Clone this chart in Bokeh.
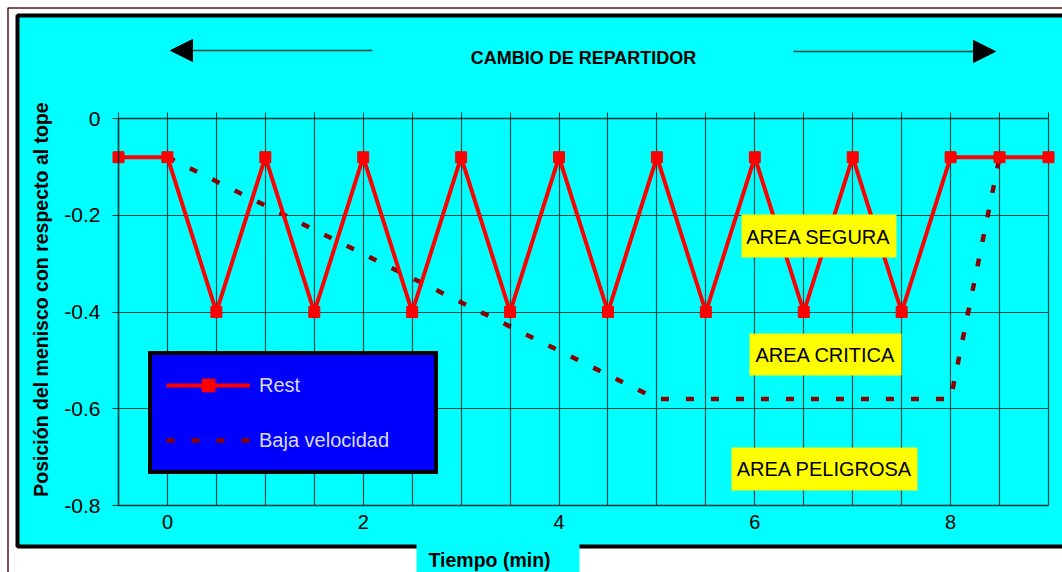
import math
from bokeh.plotting import figure
from bokeh.models import (FixedTicker, LinearAxis, Legend, LegendItem, BoxAnnotation,
                          Label, Arrow, NormalHead)
from bokeh.embed import file_html
from bokeh.resources import INLINE

# ---------------- data ----------------
time_rest = [-0.5, 0, 0.5, 1, 1.5, 2, 2.5, 3, 3.5, 4, 4.5, 5, 5.5, 6, 6.5, 7, 7.5, 8, 8.5, 9]
pos_rest = [-0.08, -0.08, -0.4, -0.08, -0.4, -0.08, -0.4, -0.08, -0.4, -0.08, -0.4,
            -0.08, -0.4, -0.08, -0.4, -0.08, -0.4, -0.08, -0.08, -0.08]
time_baja = [0, 5, 8, 8.5]
pos_baja = [-0.08, -0.58, -0.58, -0.08]

series_names = ["Rest", "Baja velocidad"]
x_tick_vals = [0, 2, 4, 6, 8]
y_tick_vals = [-0.8, -0.6, -0.4, -0.2, 0]
y_tick_labels = ["-0.8", "-0.6", "-0.4", "-0.2", "0"]
x_grid_vals = [-0.5, 0, 0.5, 1, 1.5, 2, 2.5, 3, 3.5, 4, 4.5, 5, 5.5, 6, 6.5, 7, 7.5, 8, 8.5, 9]

title_text = "CAMBIO DE REPARTIDOR"
x_label = "Tiempo (min)"
y_label = "Posición del menisco con respecto al tope"
zone_labels = ["AREA SEGURA", "AREA CRITICA", "AREA PELIGROSA"]

# ---------------- layout ----------------
X0, X1 = -0.5, 9.0          # plotted axis extent
Y0, Y1 = -0.8, 0.0
FL, FR, FT, FB = 118, 1048, 118, 505   # plot area in page pixels
W, H = 1062, 572
FONT = "Liberation Sans"
CYAN = "#00ffff"
GRID = "#164848"


def X(px):   # page pixel -> data x
    return X0 + (px - FL) * (X1 - X0) / (FR - FL)


def Y(py):   # page pixel -> data y
    return Y1 - (py - FT) * (Y1 - Y0) / (FB - FT)


# the frame covers the whole canvas; the axes sit at fixed locations inside it
p = figure(width=W, height=H, x_range=(X(0), X(W)), y_range=(Y(H), Y(0)),
           output_backend="svg", toolbar_location=None, title=None,
           background_fill_color="white", border_fill_color="white",
           min_border_left=0, min_border_right=0, min_border_top=0, min_border_bottom=0)
p.outline_line_color = None


def box(l, r, t, b, **kw):
    return BoxAnnotation(left=X(l), right=X(r), top=Y(t), bottom=Y(b), **kw)


def lab(px, py, text, **kw):
    return Label(x=X(px), y=Y(py), text=text, **kw)


# page decoration (drawn under everything)
p.add_layout(box(7.5, 1100, 7.5, 700, fill_color=None, fill_alpha=0,
                 line_color="#5a1414", line_alpha=1, line_width=1.5, level="image"))
p.add_layout(box(17, 1100, 15, 546, fill_color=CYAN, fill_alpha=1,
                 line_color="black", line_alpha=1, line_width=4, level="image"))
p.add_layout(box(416, 579, 543, 700, fill_color=CYAN, fill_alpha=1,
                 line_color=None, level="image"))

# grids (limited to the plot area)
p.xgrid.ticker = FixedTicker(ticks=x_grid_vals)
p.ygrid.ticker = FixedTicker(ticks=y_tick_vals)
p.xgrid.cross_bounds = (Y0, Y1)
p.ygrid.cross_bounds = (X0, X1)
for g in (p.xgrid, p.ygrid):
    g.grid_line_color = GRID
    g.grid_line_width = 1.2
    g.grid_line_alpha = 1

# axes
p.xaxis.fixed_location = Y0
p.xaxis.bounds = (X0, X1)
p.xaxis.ticker = FixedTicker(ticks=x_tick_vals)
p.xaxis.major_tick_out = 0
p.xaxis.major_tick_in = 0
p.xaxis.minor_tick_line_color = None
p.xaxis.axis_line_color = "#0f3030"
p.xaxis.axis_line_width = 1.5
p.xaxis.major_label_standoff = 9
p.xaxis.major_label_text_font = FONT
p.xaxis.major_label_text_font_size = "20px"
p.xaxis.major_label_text_color = "black"

p.yaxis.fixed_location = X0
p.yaxis.bounds = (Y0, Y1)
p.yaxis.ticker = FixedTicker(ticks=y_tick_vals)
p.yaxis.major_label_overrides = dict(zip(y_tick_vals, y_tick_labels))
p.yaxis.major_tick_out = 6
p.yaxis.major_tick_in = 0
p.yaxis.minor_tick_line_color = None
p.yaxis.axis_line_color = "#0f3030"
p.yaxis.axis_line_width = 1.5
p.yaxis.major_tick_line_color = "#0f3030"
p.yaxis.major_label_standoff = 12
p.yaxis.major_label_text_font = FONT
p.yaxis.major_label_text_font_size = "21px"
p.yaxis.major_label_text_color = "black"

top_axis = LinearAxis(fixed_location=Y1, bounds=(X0, X1),
                      ticker=FixedTicker(ticks=x_grid_vals), major_tick_out=6, major_tick_in=0,
                      minor_tick_line_color=None, major_label_text_font_size="0px",
                      axis_line_color="#0f3030", axis_line_width=1.5,
                      major_tick_line_color="#0f3030")
top_axis.major_label_overrides = {v: "" for v in x_grid_vals}
p.add_layout(top_axis, "above")

# series
r_baja = p.line(time_baja, pos_baja, line_color="#8b0000", line_width=4.5, line_dash="8 17")
r_rest_line = p.line(time_rest, pos_rest, line_color="#ff0000", line_width=4)
r_rest_pts = p.scatter(time_rest, pos_rest, marker="square", size=11,
                       fill_color="#ff0000", line_color="#ff0000")

# zone labels (yellow boxes)
zones = [
    (741, 896, 214, 257, 818, 236),
    (749, 901, 333, 375, 825, 354),
    (731, 917, 447, 490, 824, 468),
]
for (l, r, t, b, cx, cy), txt in zip(zones, zone_labels):
    p.add_layout(box(l, r, t, b, fill_color="#ffff00", fill_alpha=1, line_color=None))
    p.add_layout(lab(cx, cy, txt, text_align="center", text_baseline="middle",
                     text_font=FONT, text_font_size="20px", text_color="black"))

# title and arrows
p.add_layout(lab(583, 57, title_text, text_align="center", text_baseline="middle",
                 text_font=FONT, text_font_size="18px", text_font_style="bold",
                 text_color="black"))
for xs, xe, yy in ((372, 170, 50), (793, 995, 51)):
    p.add_layout(Arrow(end=NormalHead(size=22, fill_color="black", line_color="black"),
                       x_start=X(xs), y_start=Y(yy), x_end=X(xe), y_end=Y(yy),
                       line_color="#1a4040", line_width=1.5))

# axis titles
p.add_layout(lab(40, 299, y_label, angle=math.pi / 2, text_align="center",
                 text_baseline="middle", text_font=FONT, text_font_size="19.5px",
                 text_font_style="bold", text_color="black"))
p.add_layout(lab(428, 559, x_label, text_align="left", text_baseline="middle",
                 text_font=FONT, text_font_size="19.5px", text_font_style="bold",
                 text_color="black"))

# legend (location relative to the frame's bottom-left = page (0, H))
legend = Legend(items=[LegendItem(label=series_names[0], renderers=[r_rest_line, r_rest_pts]),
                       LegendItem(label=series_names[1], renderers=[r_baja])],
                location=(148, H - 474), background_fill_color="#0000ff", background_fill_alpha=1,
                border_line_color="black", border_line_width=4, border_line_alpha=1,
                label_text_color="#dcdcf8", label_text_font=FONT, label_text_font_size="20px",
                padding=14, spacing=23, glyph_width=84, glyph_height=32, label_height=32,
                label_width=161, label_standoff=9, margin=0)
p.add_layout(legend)

open("out.html", "w").write(file_html(p, INLINE))
